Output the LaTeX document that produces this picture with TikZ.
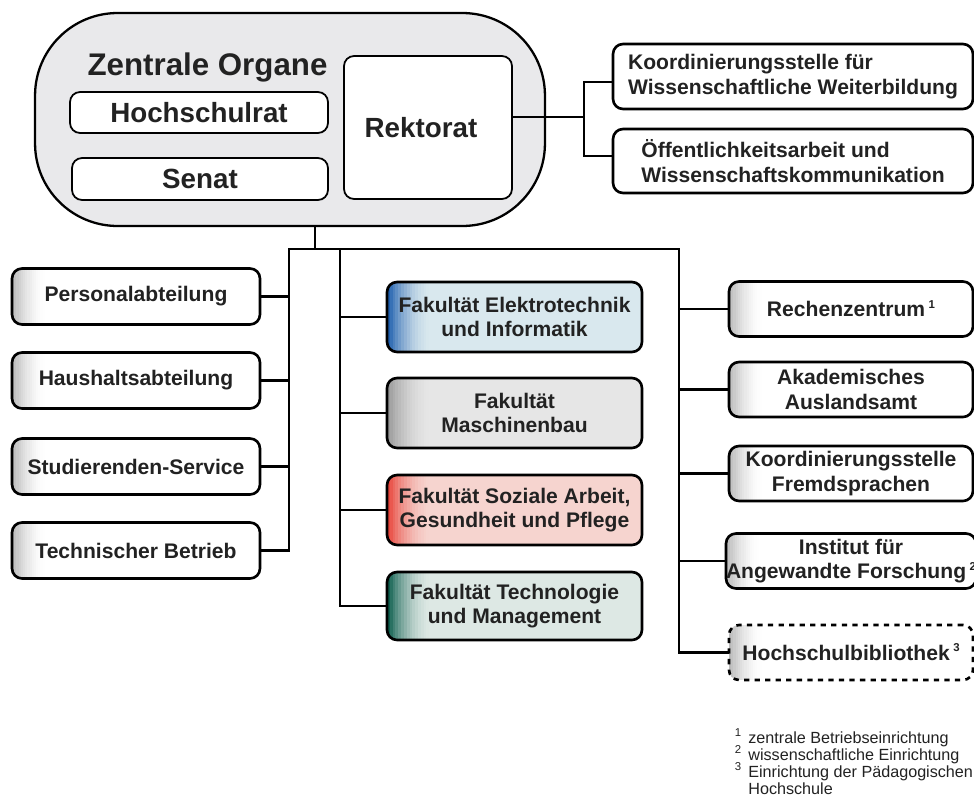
\documentclass[tikz,border=0pt]{standalone}
\usepackage{fontspec}
\setmainfont{Liberation Sans}
\usetikzlibrary{calc}
\definecolor{txt}{HTML}{222222}
\definecolor{zofill}{HTML}{E9E9EB}
\definecolor{fetd}{HTML}{1F5FAE}
\definecolor{fetl}{HTML}{D9E8EE}
\definecolor{fmbd}{HTML}{9A9A9A}
\definecolor{fmbl}{HTML}{E6E6E6}
\definecolor{fsad}{HTML}{E8463C}
\definecolor{fsal}{HTML}{F6D4CF}
\definecolor{ftmd}{HTML}{0F5F4F}
\definecolor{ftml}{HTML}{DDE8E4}
\colorlet{wgd}{gray!55}
\newcommand\fnm[1]{\smash{\raisebox{0.4em}{\fontsize{6.5}{6.5}\selectfont #1}}}
\newcommand\gradstrip[3]{%
  \foreach \i in {0,...,15}{%
    \pgfmathtruncatemacro\p{100*(1-\i/16)^2}%
    \fill[sharp corners, #1!\p!#2] ([xshift=\i*#3cm/16]path picture bounding box.south west)
      rectangle ([xshift=\i*#3cm/16+#3cm/16+0.01cm]path picture bounding box.north west);}}
\begin{document}
\begin{tikzpicture}[x=0.02cm,y=-0.02cm,
  box/.style={draw=black, line width=1.5pt, rounded corners=0.2cm,
    font=\fontsize{12}{14}\selectfont\bfseries, text=txt, align=center, inner sep=0pt},
  wbox/.style={box, fill=white, path picture={\gradstrip{wgd}{white}{0.7}}},
  fak/.style 2 args={box, fill=#2, path picture={\gradstrip{#1}{#2}{0.9}}},
  lbox/.style={wbox, minimum width=4.96cm, minimum height=1.12cm},
  fbox/.style={minimum width=5.1cm, minimum height=1.4cm},
  rbox/.style={wbox, minimum width=4.88cm, minimum height=1.1cm},
  conn/.style={line width=1.2pt, draw=black, line cap=rect}]
\useasboundingbox (0,0) rectangle (974,798);
\fill[white] (0,0) rectangle (974,798);

% central organs
\node[draw=black, line width=1.3pt, fill=zofill, rounded corners=1.65cm,
  minimum width=10.2cm, minimum height=4.26cm, inner sep=0pt] (zo) at (290,119.5) {};
\node[anchor=base, font=\fontsize{17.8}{20}\selectfont\bfseries, text=txt, inner sep=0pt] (ttl) at (207.5,75) {Zentrale Organe};
\node[box, fill=white, line width=1pt, minimum width=5.16cm, minimum height=0.82cm,
  font=\fontsize{15.8}{18}\selectfont\bfseries] (hsr) at (199,112.5) {Hochschulrat};
\node[box, fill=white, line width=1pt, minimum width=5.12cm, minimum height=0.84cm,
  font=\fontsize{15.8}{18}\selectfont\bfseries] (senat) at (200,179) {Senat};
\node[box, fill=white, line width=1pt, minimum width=3.36cm, minimum height=2.86cm,
  font=\fontsize{15.8}{18}\selectfont\bfseries] (rek) at (428,127.5) {Rektorat\hspace{0.28cm}};

% staff units of the rectorate
\node[box, fill=white, minimum width=7.2cm, minimum height=1.3cm, align=left] (kwb) at (793,76.5)
  {Koordinierungsstelle für\\Wissenschaftliche Weiterbildung};
\node[box, fill=white, minimum width=7.2cm, minimum height=1.28cm, align=left] (oeff) at (793,161)
  {Öffentlichkeitsarbeit und\\Wissenschaftskommunikation};

% left column
\node[lbox] (pers) at (136,296.5) {Personalabteilung};
\node[lbox] (haus) at (136,380.5) {Haushaltsabteilung};
\node[lbox] (stud) at (136,466.5) {Studierenden-Service};
\node[lbox] (tech) at (136,550.5) {Technischer Betrieb};

% faculties
\node[fak={fetd}{fetl}, fbox] (fet) at (514.5,317) {Fakultät Elektrotechnik\\und Informatik};
\node[fak={fmbd}{fmbl}, fbox] (fmb) at (514.5,413) {Fakultät\\Maschinenbau};
\node[fak={fsad}{fsal}, fbox] (fsa) at (514.5,510) {Fakultät Soziale Arbeit,\\Gesundheit und Pflege};
\node[fak={ftmd}{ftml}, fbox, minimum height=1.36cm] (ftm) at (514.5,606) {Fakultät Technologie\\und Management};

% right column
\node[rbox] (rz) at (851,309) {Rechenzentrum\,\fnm{1}};
\node[rbox] (aaa) at (851,389.5) {Akademisches\\Auslandsamt};
\node[rbox] (kfs) at (851,473.5) {Koordinierungsstelle\\Fremdsprachen};
\node[rbox] (ifaf) at (851,561) {Institut für\\Angewandte Forschung\,\fnm{2}};
\node[rbox, dashed] (hbib) at (851,652.5) {Hochschulbibliothek\,\fnm{3}};

% connectors
\coordinate (j) at (315,249);
\coordinate (L) at (289,249);
\coordinate (M) at (340,249);
\coordinate (R) at (679,249);
\draw[conn] (zo.south -| j) -- (j);
\draw[conn] (L) -- (R);
\draw[conn] (L) |- (tech.east);
\foreach \n in {pers,haus,stud} \draw[conn] (\n.east) -- (\n.east -| L);
\draw[conn] (M) |- (ftm.west);
\foreach \n in {fet,fmb,fsa} \draw[conn] (\n.west -| M) -- (\n.west);
\draw[conn] (R) |- (hbib.west);
\foreach \n in {rz,aaa,kfs,ifaf} \draw[conn] (\n.west -| R) -- (\n.west);
\coordinate (k) at (584,117);
\draw[conn] (rek.east |- k) -- (k);
\draw[conn] ([yshift=-0.11cm]kwb.west) -| (k) |- ([yshift=0.1cm]oeff.west);

% footnotes
\node[anchor=north west, font=\fontsize{9.2}{9.75}\selectfont, text=txt, inner sep=0pt, align=left] (fn) at (748,731)
  {\llap{\fnm{1}\hspace{4pt}}zentrale Betriebseinrichtung\\
   \llap{\fnm{2}\hspace{4pt}}wissenschaftliche Einrichtung\\
   \llap{\fnm{3}\hspace{4pt}}Einrichtung der Pädagogischen\\
   Hochschule};
\end{tikzpicture}
\end{document}
